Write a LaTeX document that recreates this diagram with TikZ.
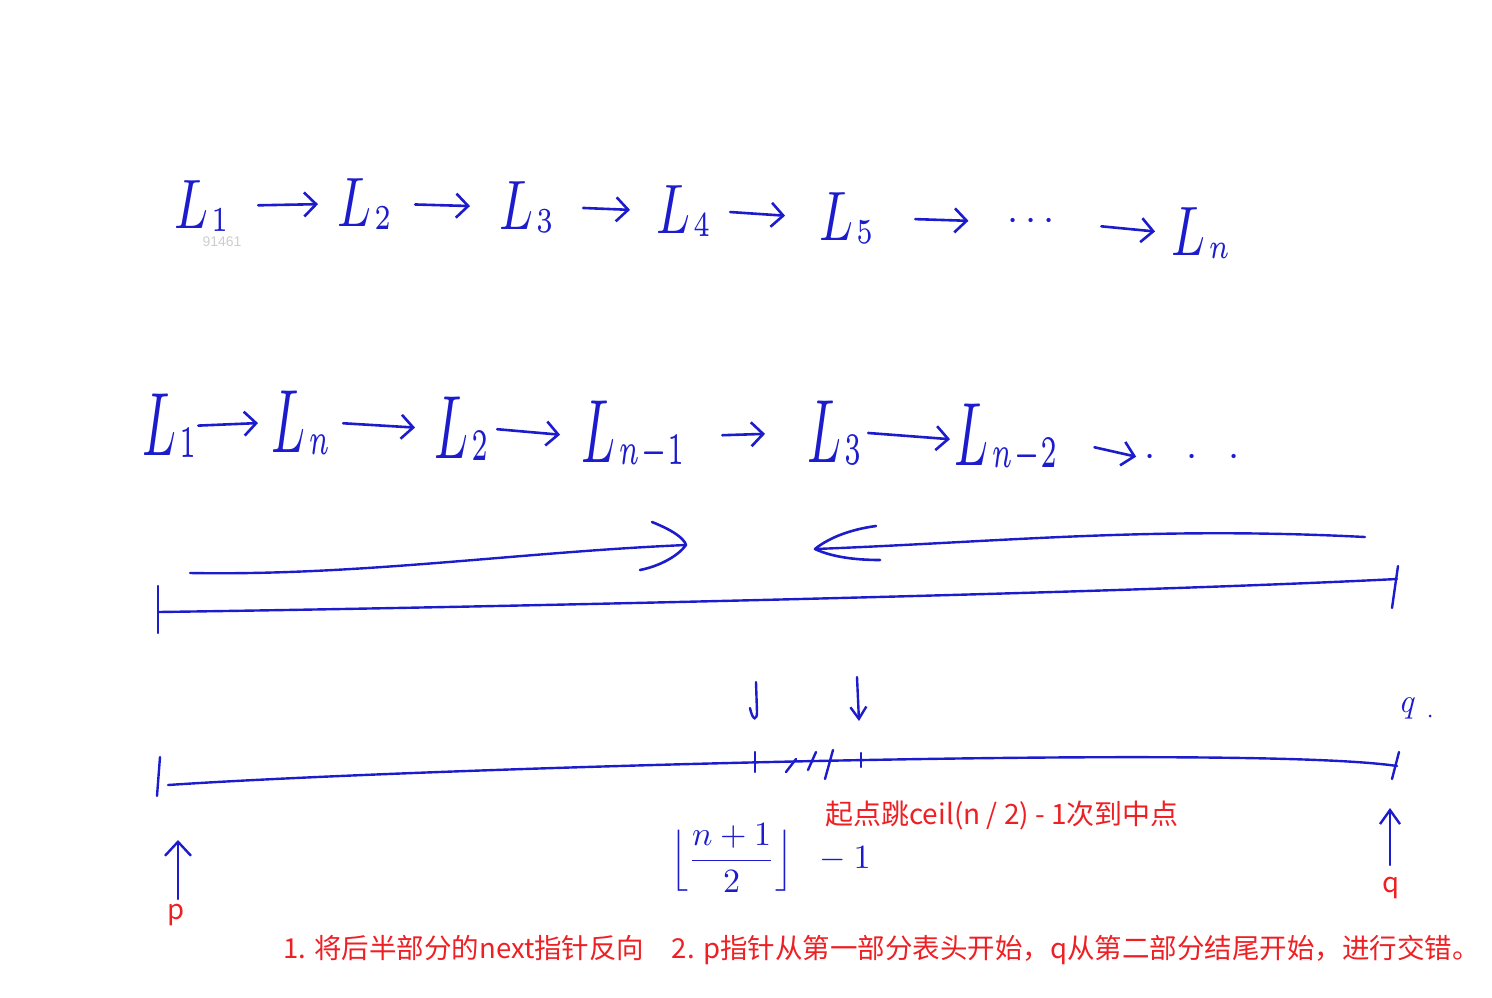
\documentclass[tikz,border=0pt]{standalone}
\usepackage{fontspec}
\newfontfamily\cjk{Noto Sans CJK SC}
\newfontfamily\wm{Liberation Sans}
\usetikzlibrary{arrows.meta}
\definecolor{ink}{RGB}{28,28,205}
\definecolor{note}{RGB}{238,32,36}
\definecolor{wmgray}{RGB}{205,205,205}
\newcommand{\hwa}[1]{\scalebox{5}[7]{$L\mkern1mu\lower0.5pt\hbox{$\scriptscriptstyle #1$}$}}
\newcommand{\hwb}[1]{\scalebox{5}[9]{$L\mkern1mu\lower0.3pt\hbox{$\scriptscriptstyle #1$}$}}
\begin{document}
\begin{tikzpicture}[x=1pt,y=-1pt,
  lbl/.style={text=ink, inner sep=2pt, anchor=base west},
  link/.style={draw=ink, line width=2.6pt, line cap=round,
     -{Straight Barb[length=12pt,width=24pt,line width=2.6pt]}},
  stroke/.style={draw=ink, line width=2.4pt, line cap=round},
  bigtip/.style={draw=ink, line width=2.6pt, line cap=round, line join=round},
  redtxt/.style={text=note, font=\cjk\fontsize{27.5}{27.5}\selectfont, inner sep=0pt},
]
\useasboundingbox (0,0) rectangle (1492,997);

% ---------- row 1 ----------
\node[lbl] (a1) at (172,228) {\hwa{1}};
\node[lbl] (a2) at (335,226) {\hwa{2}};
\node[lbl] (a3) at (497,229) {\hwa{3}};
\node[lbl] (a4) at (654,233) {\hwa{4}};
\node[lbl] (a5) at (817,240) {\hwa{5}};
\node[text=ink, inner sep=2pt] (a6) at (1031,222) {\scalebox{4}{$\cdots$}};
\node[lbl] (a7) at (1169,255) {\hwa{n}};
\node[text=wmgray, font=\wm\fontsize{14}{14}\selectfont, inner sep=0pt] (wm) at (222,242) {91461};

\draw[link, shorten <=28pt, shorten >=17pt] (a1.east) -- (a2.west);
\draw[link, shorten <=22pt, shorten >=27pt] (a2.east) -- (a3.west);
\draw[link, shorten <=28pt, shorten >=24pt] (a3.east) -- (a4.west);
\draw[link, shorten <=18pt, shorten >=32pt] (a4.east) -- (a5.west);
\draw[link, shorten <=40pt, shorten >=37pt] (a5.east) -- (a6.west);
\draw[link, shorten <=45pt, shorten >=14pt] (a6.east) -- (a7.west);

% ---------- row 2 ----------
\node[lbl] (b1) at (140,455) {\hwb{1}};
\node[lbl] (b2) at (269,452) {\hwb{n}};
\node[lbl] (b3) at (432,458) {\hwb{2}};
\node[lbl] (b4) at (579,462) {\hwb{n-1}};
\node[lbl] (b5) at (805,462) {\hwb{3}};
\node[lbl] (b6) at (952,465) {\hwb{n-2}};
\node[text=ink, inner sep=2pt] (b7) at (1192,458) {\scalebox{4}{$\cdot\;\;\cdot\;\;\cdot$}};

\draw[link, shorten <=0pt, shorten >=11pt] (b1.east) -- (b2.west);
\draw[link, shorten <=11pt, shorten >=17pt] (b2.east) -- (b3.west);
\draw[link, shorten <=7pt, shorten >=19pt] (b3.east) -- (b4.west);
\draw[link, shorten <=36pt, shorten >=40pt] (b4.east) -- (b5.west);
\draw[link, shorten <=5pt, shorten >=2pt] (b5.east) -- (b6.west);
\draw[link, shorten <=36pt, shorten >=6pt] (b6.east) -- (b7.west);

% ---------- big direction arrows ----------
\coordinate (fa) at (190,573);
\coordinate (fb) at (686,545);
\draw[stroke] (fa) .. controls (360,576) and (520,552) .. (fb);
\draw[bigtip] (652,522) .. controls (672,530) and (684,538) .. (fb) .. controls (678,556) and (660,566) .. (640,570);
\coordinate (ba) at (1365,537);
\coordinate (bb) at (815,549);
\draw[stroke] (ba) .. controls (1150,526) and (1000,542) .. (bb);
\draw[bigtip] (876,526) .. controls (846,530) and (826,540) .. (bb) .. controls (834,558) and (860,560) .. (880,560);

% ---------- first ruler ----------
\coordinate (r1s) at (158,612);
\coordinate (r1e) at (1397,579);
\draw[stroke] (r1s) .. controls (450,608) and (1100,594) .. (r1e);
\draw[stroke] (158,586) -- (158,633);
\draw[stroke] (1398,566) -- (1392,608);

% ---------- second ruler ----------
\coordinate (r2s) at (168,785);
\coordinate (r2e) at (1397,766);
\draw[stroke] (r2s) .. controls (420,768) and (1250,744) .. (r2e);
\draw[stroke] (160,757) -- (157,796);
\draw[stroke] (1399,752) -- (1392,779);
% marks at the middle
\draw[stroke] (755,752) -- (755,772);
\draw[stroke] (861,753) -- (861,767);
\draw[stroke] (786,772) -- (796,759);
\draw[stroke] (808,770) -- (816,752);
\draw[stroke] (825,779) -- (833,750);
% pointers into the middle
\coordinate (m1a) at (756,682);
\draw[stroke] (m1a) -- (757,712) .. controls (757,720) and (753,722) .. (750,708);
\coordinate (m2a) at (857,677);
\coordinate (m2b) at (859,721);
\draw[stroke, -{Straight Barb[length=12pt,width=16pt,line width=2.4pt]}] (m2a) -- (m2b);
\node[text=ink, font=\fontsize{34}{34}\selectfont\itshape, inner sep=0pt] (qq) at (1406,708) {q};
\fill[ink] (1430,716) circle (1.5pt);

% ---------- p and q ----------
\node[redtxt] (p) at (176,915) {p};
\node[redtxt] (q) at (1391,888) {q};
\coordinate (pt) at (178,899);
\coordinate (ph) at (178,840);
\draw[stroke, -{Straight Barb[length=14pt,width=26pt,line width=2.4pt]}] (pt) -- (ph);
\coordinate (qt) at (1390,865);
\coordinate (qh) at (1390,808);
\draw[stroke, -{Straight Barb[length=14pt,width=20pt,line width=2.4pt]}] (qt) -- (qh);

% ---------- formula and notes ----------
\node[text=ink, inner sep=0pt, anchor=west] (fml) at (670,858)
  {\scalebox{3.4}{$\displaystyle\Bigl\lfloor\frac{n+1}{2}\Bigr\rfloor\;\;-1$}};
\node[redtxt, font=\cjk\fontsize{28}{28}\selectfont, anchor=west] (n1) at (825,815) {起点跳ceil(n / 2) - 1次到中点};
\node[redtxt, anchor=west] (n2) at (283,950) {1. 将后半部分的next指针反向\quad 2. p指针从第一部分表头开始，q从第二部分结尾开始，进行交错。};
\end{tikzpicture}
\end{document}
